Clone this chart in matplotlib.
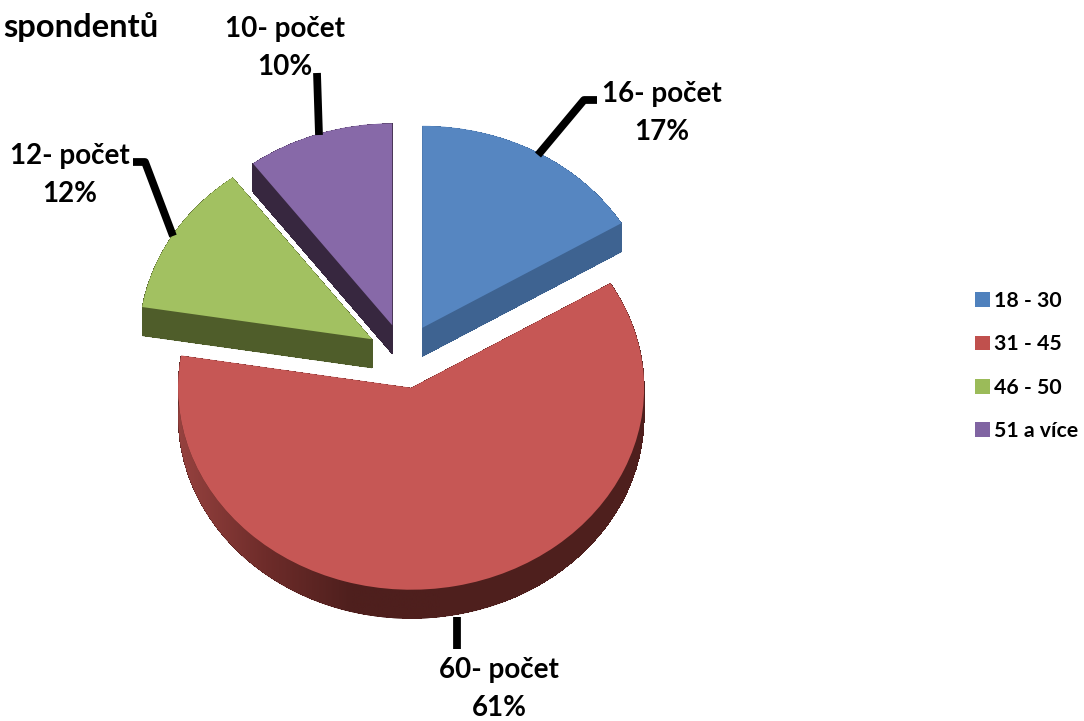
import numpy as np
import matplotlib
matplotlib.use("Agg")
import matplotlib.pyplot as plt
from matplotlib.patches import Patch, Polygon
from matplotlib.colors import LinearSegmentedColormap

categories = ["18 - 30", "31 - 45", "46 - 50", "51 a více"]
counts = [16, 60, 12, 10]
percents = [17, 61, 12, 10]
title_fragment = "spondentů"

top_colors = ["#5686C1", "#C65755", "#A2C161", "#8769A8"]
side_colors = ["#3E6391", "#4E1F1D", "#4F5D2A", "#37273F"]
legend_colors = ["#4F81BD", "#C0504D", "#9BBB59", "#8064A2"]

W, H = 1084, 721
CX, CY, RX, RY = 404, 356, 233, 202
DEPTH = 29
EXPLODE = 0.16
FONT = "Lato"


def px(x, y):
    return (x - CX) / RX, (CY - y) / RY


fig = plt.figure(figsize=(W / 100, H / 100), dpi=100)
ax = fig.add_axes([0, 0, 1, 1])


def draw_pie(colors, dy, aa=True):
    wedges, _ = ax.pie(counts, explode=[EXPLODE] * len(counts), colors=colors,
                       startangle=90, counterclock=False, radius=1,
                       center=(0, -dy / RY), normalize=True,
                       wedgeprops={"linewidth": 0, "antialiased": aa})
    return wedges


# extruded side, stacked bottom to top; only the lowest layer is smoothed
draw_pie(side_colors, DEPTH)
for d in np.arange(DEPTH - 0.5, 0, -0.5):
    draw_pie(side_colors, d, aa=False)

# horizontal shading on the left of the red rim
tops = draw_pie(top_colors, 0)
red = tops[1]
th = np.radians(np.linspace(red.theta1, red.theta2, 240))
cx0, cy0 = red.center
outer = np.c_[cx0 + np.cos(th), cy0 + np.sin(th)]
lower = outer[::-1] - [0, DEPTH / RY]
rim = Polygon(np.r_[outer, lower], closed=True, transform=ax.transData, fc="none", ec="none")
ax.add_patch(rim)
cmap = LinearSegmentedColormap.from_list("rim", ["#96423F", "#6E2C2A", "#4E1F1D", "#4E1F1D"])
x0, _ = px(178, 0)
x1, _ = px(440, 0)
y0, y1 = -1.4, 0.4
im = ax.imshow(np.linspace(0, 1, 256)[None, :], cmap=cmap, extent=(x0, x1, y0, y1),
               aspect="auto", zorder=1.5, interpolation="bilinear")
im.set_clip_path(rim)
for w in tops:
    w.set_zorder(2)

# leader lines
leaders = [
    [(538, 155), (584, 100), (597, 100)],
    [(457, 617), (457, 649)],
    [(173, 236), (145, 162), (133, 162)],
    [(319, 135), (317, 73)],
]
for pts in leaders:
    xs, ys = zip(*[px(*p) for p in pts])
    ax.plot(xs, ys, color="black", lw=5.6, solid_capstyle="butt", solid_joinstyle="round", zorder=3)

# data labels
label_pos = [(662, 113), (499, 689), (70, 175), (285, 48)]
for c, p, pos in zip(counts, percents, label_pos):
    x, y = px(*pos)
    ax.text(x, y, f"{c}- počet\n{p}%", ha="center", va="center", fontsize=20, fontweight="bold",
            family=FONT, color="black", linespacing=1.59, zorder=4)

x, y = px(158, 37)
ax.text(x, y, title_fragment, ha="right", va="baseline", fontsize=23.6, fontweight="bold",
        family=FONT, color="black")

ax.set_xlim(-CX / RX, (W - CX) / RX)
ax.set_ylim((CY - H) / RY, CY / RY)
ax.set_aspect("auto")
ax.axis("off")

handles = [Patch(facecolor=c, edgecolor="none") for c in legend_colors]
fig.legend(handles, categories, loc="upper left", bbox_to_anchor=(975 / W, 1 - 291 / H),
           frameon=False, borderaxespad=0, borderpad=0, handlelength=0.7, handleheight=0.7,
           handletextpad=0.18, labelspacing=1.1,
           prop={"family": FONT, "weight": "bold", "size": 15.3})

fig.savefig("out.png", dpi=100, facecolor="white")
